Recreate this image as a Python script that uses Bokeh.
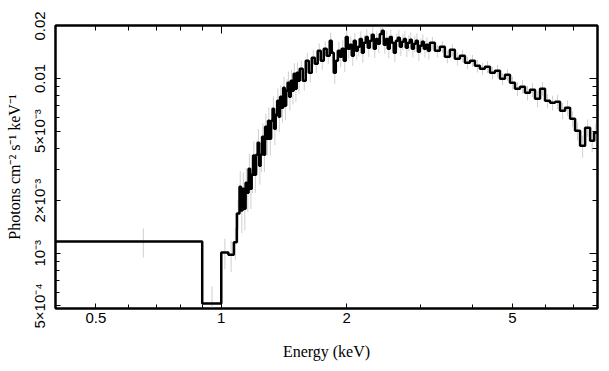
from bokeh.plotting import figure
from bokeh.models import FixedTicker, LogAxis
from bokeh.embed import file_html
from bokeh.resources import INLINE

# Energy bin edges (keV)
edges = [0.40, 0.90, 1.00, 1.04, 1.072, 1.09,
         1.106, 1.115, 1.125, 1.134, 1.144, 1.153, 1.163, 1.173, 1.183, 1.192,
         1.202, 1.212, 1.223, 1.233, 1.243, 1.253, 1.264, 1.274, 1.285, 1.295,
         1.306, 1.317, 1.328, 1.339, 1.351, 1.362, 1.373, 1.384, 1.396, 1.408,
         1.420, 1.431, 1.443, 1.455, 1.468, 1.480, 1.492, 1.504, 1.517, 1.530,
         1.543, 1.569, 1.595, 1.622, 1.649, 1.677, 1.704, 1.733, 1.762, 1.791,
         1.821, 1.841, 1.862, 1.883, 1.905, 1.925, 1.946, 1.968, 1.990, 2.012,
         2.034, 2.057, 2.080, 2.103, 2.127, 2.150, 2.175, 2.198, 2.223, 2.247,
         2.273, 2.298, 2.323, 2.349, 2.375, 2.402, 2.428, 2.455, 2.483, 2.510,
         2.538, 2.566, 2.595, 2.624, 2.653, 2.683, 2.713, 2.743, 2.773, 2.804,
         2.835, 2.867, 2.900, 2.931, 2.964, 2.997, 3.030, 3.064, 3.098, 3.133,
         3.168, 3.256, 3.347, 3.441, 3.538, 3.637, 3.739, 3.845, 3.953, 4.063,
         4.177, 4.294, 4.416, 4.539, 4.667, 4.797, 4.932, 5.070, 5.213, 5.359,
         5.509, 5.664, 5.823, 5.986, 6.154, 6.327, 6.504, 6.687, 6.876, 7.068,
         7.266, 7.470, 7.680, 7.852, 8.00]

# Photons cm^-2 s^-1 keV^-1 per bin
flux = [1.166e-3, 5.16e-4, 1.01e-3, 9.8e-4, 1.156e-3, 1.69e-3,
        0.00240, 0.001754, 0.002342, 0.001800, 0.002534, 0.002220, 0.003048, 0.002342, 0.002816, 0.00362,
        0.002816, 0.003664, 0.00429, 0.00317, 0.003664, 0.004642, 0.003664, 0.005296, 0.004522, 0.00573,
        0.004522, 0.00573, 0.00671, 0.005156, 0.00620, 0.00746, 0.00604, 0.007856, 0.00680, 0.008844,
        0.00698, 0.00850, 0.00945, 0.007856, 0.00970, 0.00850, 0.01063, 0.00873, 0.01077, 0.00970,
        0.01136, 0.00970, 0.01262, 0.01077, 0.01313, 0.01213, 0.01439, 0.01262, 0.01478, 0.01348,
        0.01642, 0.01402, 0.01077, 0.01262, 0.01439, 0.01330, 0.01478, 0.01262, 0.01730, 0.01478,
        0.01558, 0.01348, 0.01642, 0.01439, 0.01517, 0.01685, 0.01402, 0.01599, 0.01730, 0.01497,
        0.01642, 0.01777, 0.01478, 0.01685, 0.01579, 0.01800, 0.01873, 0.01558, 0.01685, 0.01478,
        0.01730, 0.01599, 0.01402, 0.01642, 0.01708, 0.01517, 0.01620, 0.01685, 0.01497, 0.01599,
        0.01664, 0.01478, 0.01579, 0.01642, 0.01421, 0.01537, 0.01620, 0.01478, 0.01558, 0.01439,
        0.01599, 0.01439, 0.01517, 0.01330, 0.01458, 0.01296, 0.01348, 0.01229, 0.01262, 0.01182,
        0.01136, 0.01166, 0.01077, 0.01106, 0.00996, 0.01050, 0.00945, 0.00873, 0.00896, 0.00828,
        0.00862, 0.00765, 0.00873, 0.00746, 0.00726, 0.00736, 0.00654, 0.00680, 0.00588, 0.00502,
        0.00412, 0.00523, 0.00440, 0.00489]

# 1-sigma errors
err = [2.2e-4, 1.3e-4, 2.0e-4, 2.0e-4, 2.4e-4, 3.2e-4,
       0.00055, 0.00045, 0.00055, 0.00045, 0.00055, 0.00050, 0.00065, 0.00055, 0.00060, 0.00075,
       0.00060, 0.00075, 0.00085, 0.00070, 0.00075, 0.00090, 0.00075, 0.0010, 0.0009, 0.0011,
       0.0009, 0.0011, 0.0012, 0.0010, 0.0012, 0.0013, 0.0011, 0.0013, 0.0012, 0.0014,
       0.0012, 0.0014, 0.0015, 0.0013, 0.0015, 0.0014, 0.0016, 0.0014, 0.0016, 0.0015,
       0.0013, 0.0012, 0.0014, 0.0013, 0.0014, 0.0014, 0.0015, 0.0014, 0.0015, 0.0014,
       0.0019, 0.0017, 0.0015, 0.0017, 0.0018, 0.0017, 0.0018, 0.0017, 0.0019, 0.0018,
       0.0018, 0.0017, 0.0018, 0.0017, 0.0018, 0.0018, 0.0017, 0.0018, 0.0019, 0.0017,
       0.0018, 0.0019, 0.0017, 0.0018, 0.0018, 0.0019, 0.0019, 0.0017, 0.0018, 0.0017,
       0.0018, 0.0017, 0.0016, 0.0017, 0.0018, 0.0017, 0.0017, 0.0018, 0.0017, 0.0017,
       0.0017, 0.0016, 0.0017, 0.0017, 0.0016, 0.0016, 0.0017, 0.0016, 0.0016, 0.0016,
       0.0013, 0.0012, 0.0012, 0.0011, 0.0012, 0.0011, 0.0011, 0.0010, 0.0010, 0.0010,
       0.0009, 0.0009, 0.0009, 0.0009, 0.0008, 0.0008, 0.0008, 0.0008, 0.0008, 0.0008,
       0.0008, 0.0008, 0.0008, 0.0007, 0.0007, 0.0007, 0.0007, 0.0007, 0.0006, 0.0006,
       0.0006, 0.0006, 0.0006, 0.0006]

x_ticks = [0.5, 1, 2, 5]
x_labels = ["0.5", "1", "2", "5"]
x_minor = [0.4, 0.6, 0.7, 0.8, 0.9, 3, 4, 6, 7, 8]
y_ticks = [5e-4, 1e-3, 2e-3, 5e-3, 0.01, 0.02]
y_labels = ["5\u00d710\u207b\u2074", "10\u207b\u00b3", "2\u00d710\u207b\u00b3", "5\u00d710\u207b\u00b3", "0.01", "0.02"]
y_minor = [6e-4, 7e-4, 8e-4, 9e-4, 3e-3, 4e-3, 6e-3, 7e-3, 8e-3, 9e-3]

# derived geometry
step_x, step_y = [], []
for i, v in enumerate(flux):
    step_x += [edges[i], edges[i + 1]]
    step_y += [v, v]
mid = [(edges[i] + edges[i + 1]) / 2 for i in range(len(flux))]
lo = [v - e for v, e in zip(flux, err)]
hi = [v + e for v, e in zip(flux, err)]

p = figure(width=609, height=371, x_axis_type="log", y_axis_type="log",
           x_range=(0.4, 8.0), y_range=(4.83e-4, 0.0201),
           output_backend="svg", toolbar_location=None,
           min_border_left=55, min_border_right=12, min_border_top=25, min_border_bottom=63)
p.background_fill_color = "white"
p.border_fill_color = "white"
p.grid.visible = False
p.outline_line_color = "black"
p.outline_line_width = 2

p.segment(x0=mid, y0=lo, x1=mid, y1=hi, line_color="#cfcfcf", line_width=1)
p.line(step_x, step_y, line_color="black", line_width=2.5)

xa = p.xaxis[0]
xa.ticker = FixedTicker(ticks=x_ticks, minor_ticks=x_minor)
xa.major_label_overrides = {t: l for t, l in zip(x_ticks, x_labels)}
ya = p.yaxis[0]
ya.ticker = FixedTicker(ticks=y_ticks, minor_ticks=y_minor)
ya.major_label_overrides = {t: l for t, l in zip(y_ticks, y_labels)}
ya.major_label_orientation = "vertical"

for ax in (xa, ya):
    ax.axis_line_color = "black"
    ax.axis_line_width = 2
    ax.major_tick_in = 5
    ax.major_tick_out = 0
    ax.minor_tick_in = 4
    ax.minor_tick_out = 0
    ax.major_tick_line_color = "black"
    ax.minor_tick_line_color = "black"
    ax.major_label_text_font = "Liberation Sans"
    ax.major_label_text_font_size = "15px"
    ax.major_label_text_color = "black"
    ax.axis_label_text_font = "Liberation Serif"
    ax.axis_label_text_font_size = "16px"
    ax.axis_label_text_font_style = "normal"
    ax.axis_label_text_color = "black"

xa.axis_label = "Energy (keV)"
xa.major_label_standoff = 4
xa.axis_label_standoff = 17
ya.axis_label = "Photons cm\u207b\u00b2 s\u207b\u00b9 keV\u207b\u00b9"
ya.major_label_standoff = 7
ya.axis_label_standoff = 6

# mirrored tick marks on top and right
top = LogAxis(ticker=FixedTicker(ticks=[1], minor_ticks=[0.4, 0.5, 0.6, 0.7, 0.8, 0.9, 2, 3, 4, 5, 6, 7, 8]))
right = LogAxis(ticker=FixedTicker(ticks=[1e-3, 1e-2], minor_ticks=[5e-4, 6e-4, 7e-4, 8e-4, 9e-4, 2e-3, 3e-3, 4e-3, 5e-3, 6e-3, 7e-3, 8e-3, 9e-3]))
top.major_label_overrides = {1: ""}
right.major_label_overrides = {1e-3: "", 1e-2: ""}
for ax in (top, right):
    ax.axis_line_color = "black"
    ax.axis_line_width = 2
    ax.major_tick_in = 8
    ax.major_tick_out = 0
    ax.minor_tick_in = 5
    ax.minor_tick_out = 0
    ax.major_label_text_font_size = "0px"
    ax.major_label_standoff = 0
p.add_layout(top, "above")
p.add_layout(right, "right")

open("out.html", "w").write(file_html(p, INLINE))
